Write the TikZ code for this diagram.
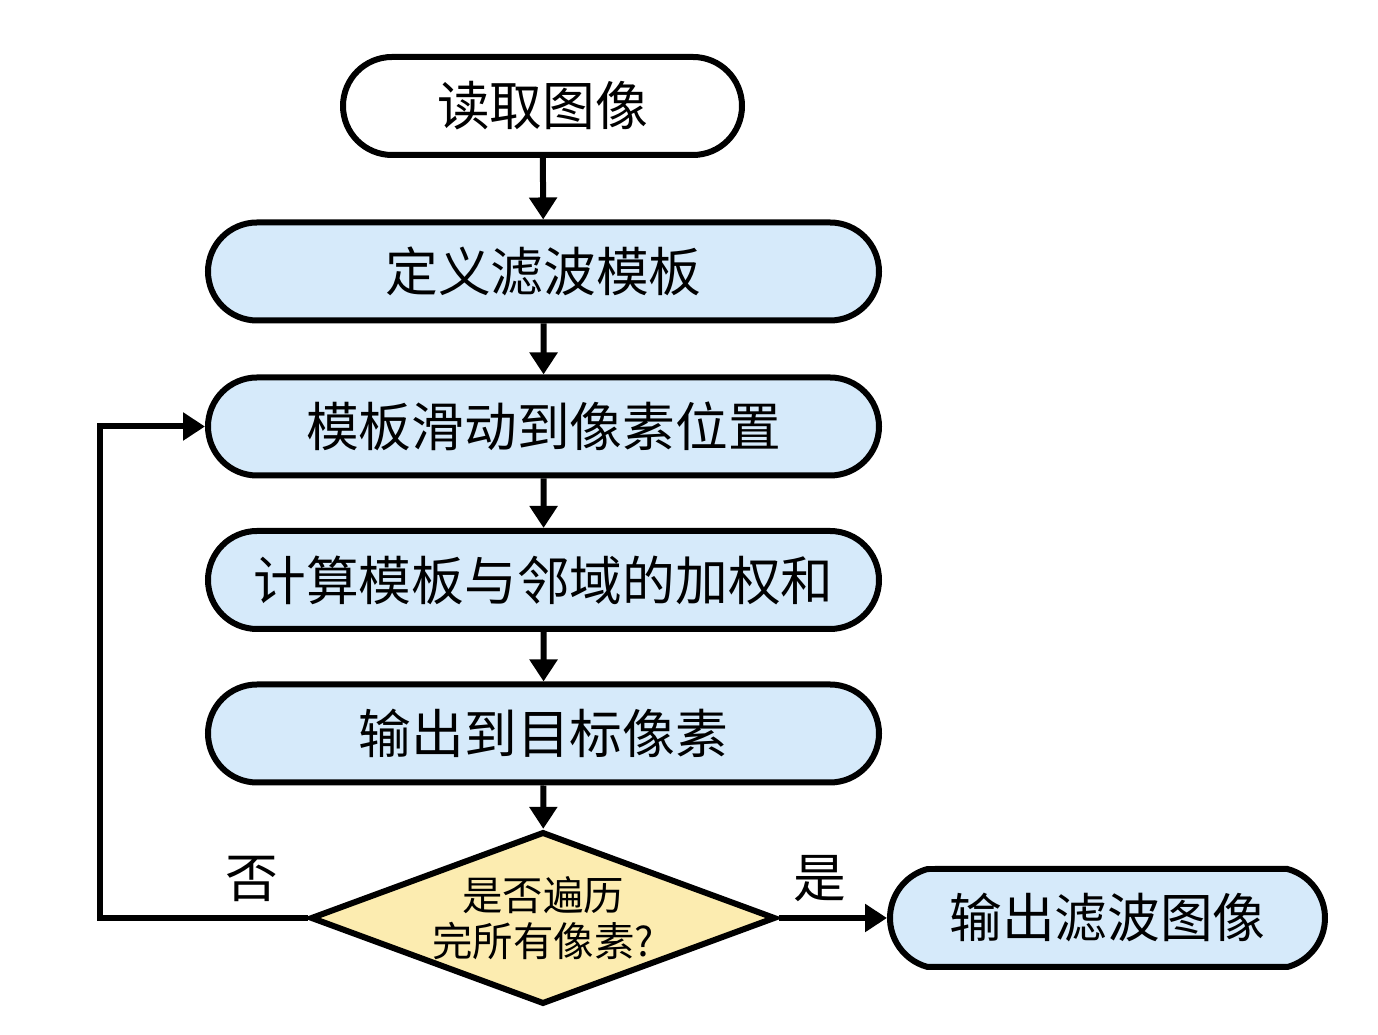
\documentclass[tikz,border=0pt]{standalone}
\usepackage{fontspec}
\setmainfont{Noto Sans CJK SC}
\usepackage{xcolor}
\usetikzlibrary{positioning,shapes,arrows.meta}

\definecolor{boxblue}{RGB}{214,234,250}
\definecolor{boxyellow}{RGB}{252,236,176}

\begin{document}
\begin{tikzpicture}
\tikzstyle{every node}=[line width=0.12cm,font=\fontsize{30}{36}\selectfont];
\tikzstyle{term}=[draw,rounded rectangle,minimum height=1.96cm,inner sep=0pt];
\tikzstyle{proc}=[term,fill=boxblue,minimum width=13.42cm];
\tikzstyle{test}=[draw,diamond,fill=boxyellow,aspect=2.7,inner sep=0pt,
  minimum width=9.3cm,minimum height=3.45cm,align=center,
  font=\fontsize{23}{26}\selectfont];
\tikzstyle{flow}=[line width=0.12cm,-{Triangle[width=0.54cm,length=0.44cm]}];
\useasboundingbox (0,0) rectangle (27.56,20.7);

\node[term,fill=white,minimum width=7.98cm] (read) at (10.85,18.58) {读取图像};
\node[proc] (mask) at (10.87,15.27) {定义滤波模板};
\node[proc] (slide) at (10.87,12.17) {模板滑动到像素位置};
\node[proc] (sum) at (10.87,9.1) {计算模板与邻域的加权和};
\node[proc] (write) at (10.87,6.03) {输出到目标像素};
\node[test] (done) at (10.86,2.34) {是否遍历\\完所有像素?};
\node[term,fill=boxblue,rounded rectangle arc length=150,minimum width=8.7cm] (out) at (22.15,2.34) {输出滤波图像};
\coordinate (back) at (2.0,2.34);

\draw[flow] (read) -- (mask);
\draw[flow] (mask) -- (slide);
\draw[flow] (slide) -- (sum);
\draw[flow] (sum) -- (write);
\draw[flow] (write) -- (done);
\draw[flow] (done) -- node[above=0.15cm,draw=none,pos=0.38] (yes) {是} (out);
\draw[flow] (done.west) -- node[above=0.15cm,draw=none,pos=0.27] (no) {否} (back) |- (slide.west);
\end{tikzpicture}
\end{document}
